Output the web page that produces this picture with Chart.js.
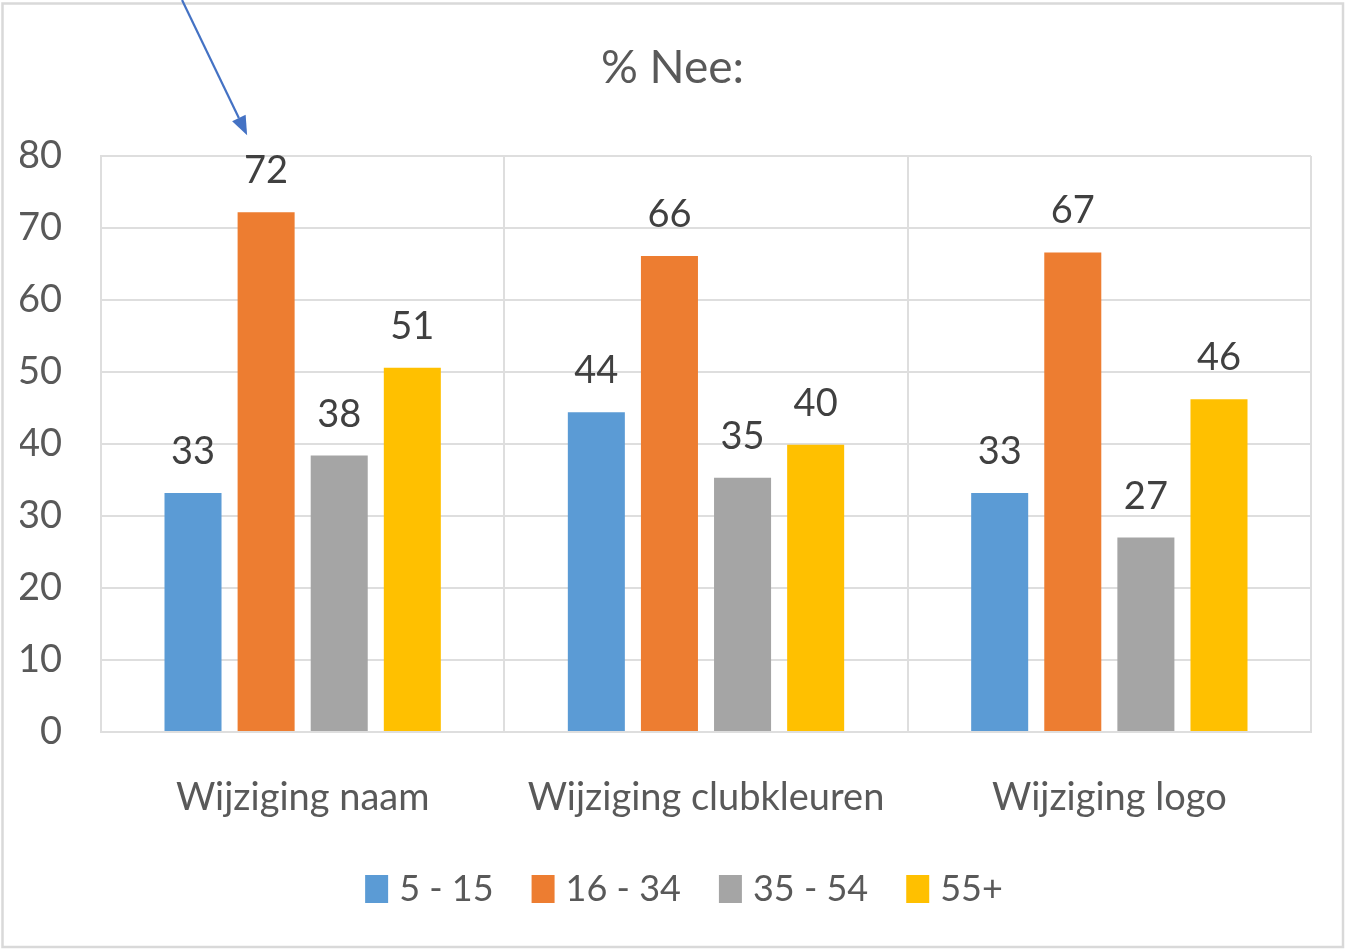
<!DOCTYPE html>
<html>
<head>
<meta charset="utf-8">
<script src="https://cdn.jsdelivr.net/npm/chart.js@4/dist/chart.umd.min.js"></script>
<style>
  html, body { margin: 0; padding: 0; background: #ffffff; }
  #wrap { position: relative; width: 1345px; height: 950px; }
</style>
</head>
<body>
<div id="wrap"><canvas id="c" width="1345" height="950"></canvas></div>
<script>
const categories = ["Wijziging naam", "Wijziging clubkleuren", "Wijziging logo"];
const seriesNames = ["5 - 15", "16 - 34", "35 - 54", "55+"];
const age5to15 = [33.2, 44.4, 33.2];
const age16to34 = [72.2, 66.1, 66.6];
const age35to54 = [38.4, 35.3, 27.0];
const age55plus = [50.6, 39.9, 46.2];
const yTicks = [0, 10, 20, 30, 40, 50, 60, 70, 80];
const chartTitle = "% Nee:";

const colors = ["#5B9BD5", "#ED7D31", "#A5A5A5", "#FFC000"];
const FONT = "Lato";
const textColor = "#595959";
const gridColor = "#dedede";

const seriesValues = [age5to15, age16to34, age35to54, age55plus];

const frameAndArrow = {
  id: "frameAndArrow",
  afterLayout(chart) {
    // nudge title and legend to sit where the reference has them
    const t = chart.titleBlock;
    if (t) { t.left += 7; t.right += 7; }
    const lg = chart.legend;
    if (lg) { lg.left += 22; lg.right += 22; lg.top -= 2; lg.bottom -= 2; }
  },
  beforeDraw(chart) {
    const ctx = chart.ctx;
    ctx.save();
    ctx.fillStyle = "#ffffff";
    ctx.fillRect(0, 0, chart.width, chart.height);
    ctx.strokeStyle = "#d9d9d9";
    ctx.lineWidth = 2.5;
    ctx.strokeRect(2.5, 3.5, chart.width - 4.5, chart.height - 6.5);
    ctx.restore();
  },
  afterDraw(chart) {
    // annotation arrow pointing at the 16 - 34 label of the first category
    const bar = chart.getDatasetMeta(1).data[0];
    if (!bar) return;
    const ctx = chart.ctx;
    const tipX = bar.x - 19;
    const tipY = bar.y - 77;
    const dx = 65, dy = 135;
    const len = Math.hypot(dx, dy);
    const ux = dx / len, uy = dy / len;
    const t = tipY / uy;
    const sx = tipX - ux * t, sy = tipY - uy * t;
    const headLen = 19, headHalf = 7.5;
    const bx = tipX - ux * headLen, by = tipY - uy * headLen;
    ctx.save();
    ctx.strokeStyle = "#4472C4";
    ctx.fillStyle = "#4472C4";
    ctx.lineWidth = 2.2;
    ctx.beginPath();
    ctx.moveTo(sx, sy);
    ctx.lineTo(bx, by);
    ctx.stroke();
    ctx.beginPath();
    ctx.moveTo(tipX, tipY);
    ctx.lineTo(bx - uy * headHalf, by + ux * headHalf);
    ctx.lineTo(bx + uy * headHalf, by - ux * headHalf);
    ctx.closePath();
    ctx.fill();
    ctx.restore();
  }
};

const barLabels = {
  id: "barLabels",
  afterDatasetsDraw(chart) {
    const ctx = chart.ctx;
    ctx.save();
    ctx.font = "38px " + FONT;
    ctx.fillStyle = "#404040";
    ctx.textAlign = "center";
    ctx.textBaseline = "alphabetic";
    chart.data.datasets.forEach((ds, i) => {
      const meta = chart.getDatasetMeta(i);
      meta.data.forEach((bar, j) => {
        ctx.fillText(String(Math.round(ds.data[j])), bar.x, bar.y - 29);
      });
    });
    ctx.restore();
  }
};

new Chart(document.getElementById("c"), {
  type: "bar",
  data: {
    labels: categories,
    datasets: seriesNames.map((name, i) => ({
      label: name,
      data: seriesValues[i],
      backgroundColor: colors[i],
      borderWidth: 0,
      categoryPercentage: 0.725,
      barPercentage: 0.78
    }))
  },
  options: {
    responsive: false,
    animation: false,
    devicePixelRatio: 1,
    layout: { padding: { top: 10, left: 20, right: 34, bottom: 31 } },
    plugins: {
      title: {
        display: true,
        text: chartTitle,
        color: textColor,
        font: { family: FONT, size: 46, weight: "normal" },
        padding: { top: 31, bottom: 59.8 }
      },
      legend: {
        position: "bottom",
        labels: {
          color: textColor,
          font: { family: FONT, size: 36 },
          boxWidth: 9,
          boxHeight: 14,
          padding: 45,
          generateLabels(chart) {
            const items = Chart.defaults.plugins.legend.labels.generateLabels(chart);
            return items.map(it => Object.assign(it, { strokeStyle: it.fillStyle, lineWidth: 14 }));
          }
        }
      },
      tooltip: { enabled: false }
    },
    scales: {
      x: {
        grid: { color: gridColor, lineWidth: 2, drawTicks: false, offset: true },
        border: { color: gridColor, width: 2 },
        ticks: {
          color: textColor,
          font: { family: FONT, size: 38 },
          padding: 43,
          maxRotation: 0
        },
        afterFit(scale) {
          scale.height = 96;
          scale.paddingLeft = 0;
          scale.paddingRight = 0;
        }
      },
      y: {
        min: 0,
        max: 80,
        afterBuildTicks(scale) { scale.ticks = yTicks.map(v => ({ value: v })); },
        grid: { color: gridColor, lineWidth: 2, drawTicks: false },
        border: { color: gridColor, width: 2 },
        ticks: {
          color: textColor,
          font: { family: FONT, size: 38 },
          padding: 39
        },
        afterFit(scale) {
          scale.width = 81;
        }
      }
    }
  },
  plugins: [frameAndArrow, barLabels]
});
</script>
</body>
</html>
